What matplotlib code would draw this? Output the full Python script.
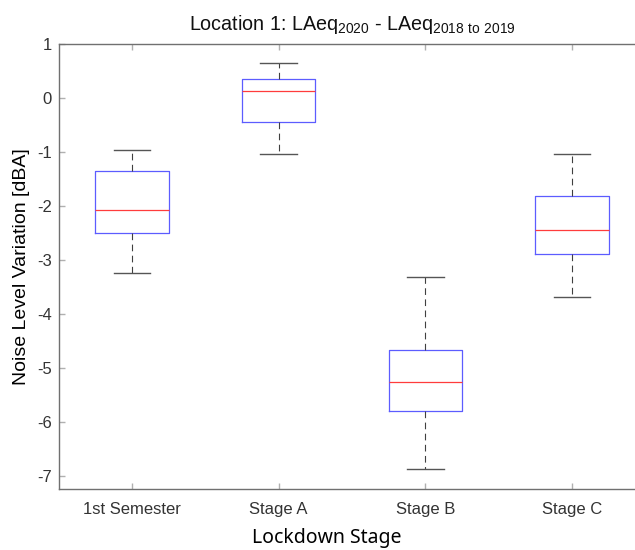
import matplotlib
matplotlib.use('Agg')
import matplotlib.pyplot as plt

# Werte
stages = ['1st Semester', 'Stage A', 'Stage B', 'Stage C']
whisker_low = [-3.24, -1.04, -6.86, -3.69]
q1 = [-2.50, -0.45, -5.80, -2.89]
median = [-2.07, 0.13, -5.25, -2.44]
q3 = [-1.35, 0.35, -4.66, -1.82]
whisker_high = [-0.96, 0.64, -3.32, -1.04]

plt.rcParams['mathtext.fontset'] = 'custom'
plt.rcParams['mathtext.rm'] = 'Liberation Sans'
plt.rcParams['mathtext.default'] = 'regular'
plt.rcParams['axes.unicode_minus'] = False

stats = []
for i, name in enumerate(stages):
    stats.append({'label': name, 'whislo': whisker_low[i], 'q1': q1[i],
                  'med': median[i], 'q3': q3[i], 'whishi': whisker_high[i],
                  'fliers': []})

fig = plt.figure(figsize=(6.35, 5.5), dpi=100)
ax = fig.add_axes([0.0924, 0.1104, 0.9241, 0.8101])

ax.bxp(stats, positions=[1, 2, 3, 4], widths=0.5, showfliers=False,
       boxprops=dict(color='#5c5cff', linewidth=0.9),
       medianprops=dict(color='#ff3c3c', linewidth=0.9),
       whiskerprops=dict(color='#404040', linewidth=0.8, linestyle=(0, (6, 4))),
       capprops=dict(color='#555555', linewidth=1.0),
       capwidths=0.25)

ax.set_xlim(0.5, 4.5)
ax.set_ylim(-7.24, 1.0)
ax.set_yticks(range(-7, 2))
ax.set_xticks([1, 2, 3, 4])
ax.set_xticklabels(stages)

for s in ax.spines.values():
    s.set_color('#707070')
    s.set_linewidth(1.0)

ax.tick_params(axis='both', direction='in', length=4.5, width=1.0,
               color='#b0b0b0', labelcolor='#333333', labelsize=12,
               top=True, right=True)
ax.tick_params(axis='x', pad=9)
ax.tick_params(axis='y', pad=5)
for lab in ax.get_xticklabels() + ax.get_yticklabels():
    lab.set_family('Liberation Sans')

ax.set_title(r'Location 1: LAeq$_{2020}$ - LAeq$_{2018\ to\ 2019}$',
             fontsize=14.2, family='Liberation Sans', color='#111111', pad=10)
ax.set_ylabel('Noise Level Variation [dBA]', fontsize=14,
              family='Liberation Sans', color='black')
ax.yaxis.set_label_coords(-0.049, 0.5)
ax.set_xlabel('Lockdown Stage', fontsize=14, family='Noto Sans', color='black')
ax.xaxis.set_label_coords(0.457, -0.088)

fig.savefig('out.png', dpi=100, facecolor='white')
